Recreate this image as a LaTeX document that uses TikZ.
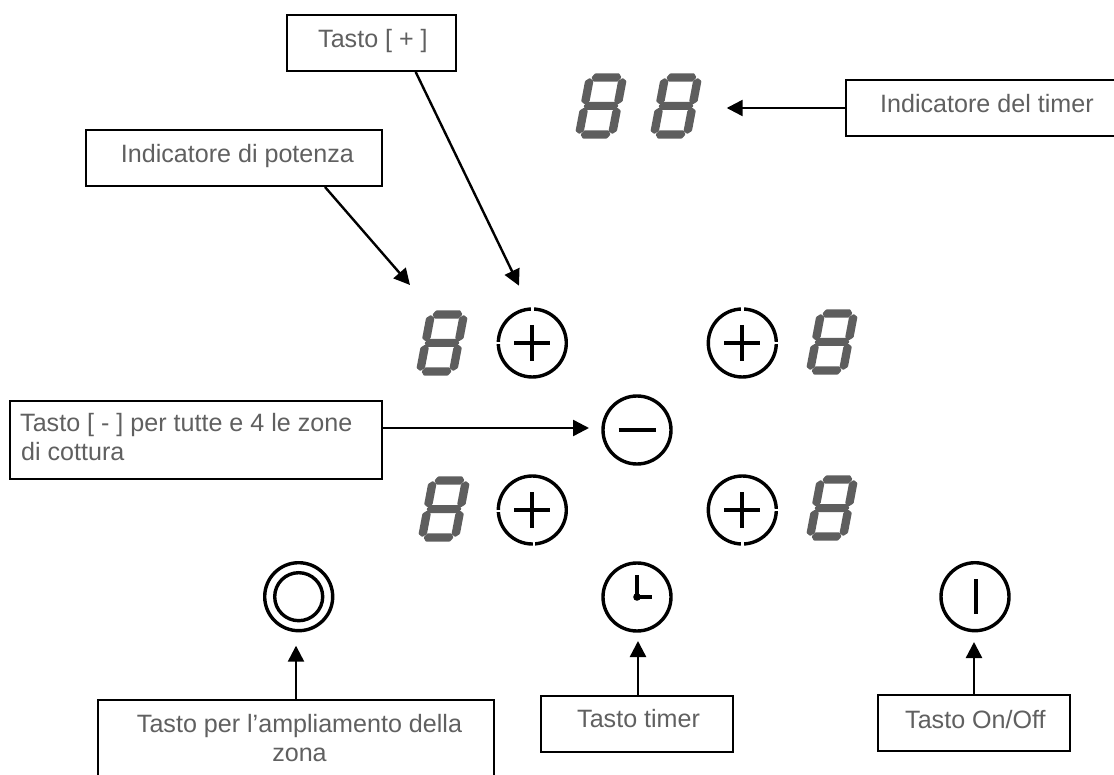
\documentclass[tikz,border=0pt]{standalone}
\usepackage{fontspec}
\setmainfont{Liberation Sans}
\usetikzlibrary{arrows.meta}
\definecolor{txtgray}{HTML}{606060}
\definecolor{seggray}{HTML}{5E5E5E}
\tikzset{
  x=1pt,y=-1pt,
  calloutbox/.style={draw=black,line width=2pt,fill=white,rectangle,inner sep=0pt},
  caption/.style={text=txtgray,inner sep=0pt,font=\fontsize{25.1}{29.3}\selectfont},
  pointer/.style={draw=black,line width=2.4pt,-{Triangle[length=16pt,width=16pt]}},
  keyring/.style={circle,draw=black,line width=3.4pt,minimum size=68pt,inner sep=0pt},
  keymark/.style={draw=black,line width=3.8pt},
  notch/.style={draw=white,line width=2.6pt},
  segfill/.style={fill=seggray,rounded corners=.8pt}
}
\newcommand{\hseg}[3]{\path[segfill] (-#1,#2) -- (-#1+3,#2-#3) -- (#1-3,#2-#3) -- (#1,#2) -- (#1-3,#2+#3) -- (-#1+3,#2+#3) -- cycle;}
\newcommand{\vseg}[3]{\path[segfill] (#1,#2) -- (#1+4.2,#2+3) -- (#1+4.2,#3-3) -- (#1,#3) -- (#1-4.2,#3-3) -- (#1-4.2,#2+3) -- cycle;}
\newcommand{\sevenseg}[2]{%
  \begin{scope}[shift={(#1,#2)},xslant=.19]
    \hseg{15}{-28.5}{4.2}
    \hseg{17.5}{0}{4}
    \hseg{15}{28.5}{4.2}
    \vseg{-16.5}{-28}{-1.6}
    \vseg{16.5}{-28}{-1.6}
    \vseg{-16.5}{1.6}{28}
    \vseg{16.5}{1.6}{28}
  \end{scope}}
\newcommand{\plussign}[2]{%
  \draw[keymark] (#1-18,#2) -- (#1+18,#2);
  \draw[keymark] (#1,#2-18) -- (#1,#2+18);}
\begin{document}
\begin{tikzpicture}
\useasboundingbox (0,0) rectangle (1114,775);
\fill[white] (0,0) rectangle (1114,775);

% displays
\sevenseg{601}{106}
\sevenseg{676}{106}
\sevenseg{442}{343}
\sevenseg{832}{342}
\sevenseg{444}{509}
\sevenseg{832}{508}

% plus keys
\node[keyring] (plusUL) at (532.3,343) {};
\plussign{532.3}{343}
\draw[notch] (532.3,306) -- (532.3,312);
\draw[notch] (495,343) -- (501,343);
\node[keyring] (plusUR) at (742.3,343) {};
\plussign{742.3}{343}
\draw[notch] (742.3,306) -- (742.3,312);
\draw[notch] (773,343) -- (780,343);
\node[keyring] (plusLL) at (532.3,510) {};
\plussign{532.3}{510}
\draw[notch] (495,511) -- (501,511);
\draw[notch] (534,541) -- (534,548);
\node[keyring] (plusLR) at (742.3,510) {};
\plussign{742.3}{510}
\draw[notch] (773,510) -- (780,510);
\draw[notch] (742.3,541) -- (742.3,548);

% minus key
\node[keyring] (minuskey) at (637,430) {};
\draw[keymark] (618.5,430) -- (655.5,430);

% zone key
\node[keyring] (zonekey) at (298.7,596.7) {};
\node[keyring,minimum size=48pt] (zoneinner) at (298.7,596.7) {};

% timer key
\node[keyring] (timerkey) at (637,597) {};
\draw[keymark] (637,597) -- (637,575);
\draw[keymark] (637,597) -- (652,597);
\fill[black] (637,597) circle (3.8);

% on/off key
\node[keyring] (powerkey) at (975,596.7) {};
\draw[keymark] (975.7,579) -- (975.7,614);

% callout boxes
\node[calloutbox,minimum width=168.4pt,minimum height=56pt] (boxplus) at (371.5,43) {};
\node[calloutbox,minimum width=296.3pt,minimum height=56pt] (boxpower) at (233.8,158) {};
\node[calloutbox,minimum width=300pt,minimum height=56pt] (boxdisplay) at (996,108) {};
\node[calloutbox,minimum width=372pt,minimum height=78.6pt] (boxminus) at (196,440) {};
\node[calloutbox,minimum width=396pt,minimum height=120pt] (boxzone) at (296,760) {};
\node[calloutbox,minimum width=192pt,minimum height=56pt] (boxtimer) at (637,724) {};
\node[calloutbox,minimum width=192.3pt,minimum height=56pt] (boxonoff) at (973.9,723) {};

% captions
\node[caption,anchor=base west] (capplus) at (318,48) {Tasto [ + ]};
\node[caption,anchor=base west] (cappower) at (120.7,163) {Indicatore di potenza};
\node[caption,anchor=base west] (capdisplay) at (880,113) {Indicatore del timer};
\node[caption,align=left,anchor=north west] (capminus) at (20,413) {Tasto [ - ] per tutte e 4 le zone\\[0pt]\hspace{1pt}di cottura};
\node[caption,align=center,anchor=north] (capzone) at (299.5,713.7) {Tasto per l’ampliamento della\\zona};
\node[caption,anchor=base west] (captimer) at (577,727.7) {Tasto timer};
\node[caption,anchor=base west] (caponoff) at (905,728) {Tasto On/Off};

% arrow tips
\coordinate (tipplus) at (519,285.7);
\coordinate (tippower) at (410,285);
\coordinate (tipdisplay) at (726.7,108);
\coordinate (tipminus) at (589,428);
\coordinate (tipzone) at (296,645.7);
\coordinate (tiptimer) at (638,641);
\coordinate (tiponoff) at (974,642);

% connectors
\draw[pointer] ([xshift=44.2pt]boxplus.south) -- (tipplus);
\draw[pointer] ([xshift=91.2pt]boxpower.south) -- (tippower);
\draw[pointer] (boxdisplay.west) -- (tipdisplay);
\draw[pointer] ([yshift=12pt]boxminus.east) -- (tipminus);
\draw[pointer] (boxzone.north) -- (tipzone);
\draw[pointer] ([xshift=1pt]boxtimer.north) -- (tiptimer);
\draw[pointer] ([xshift=.1pt]boxonoff.north) -- (tiponoff);
\end{tikzpicture}
\end{document}
